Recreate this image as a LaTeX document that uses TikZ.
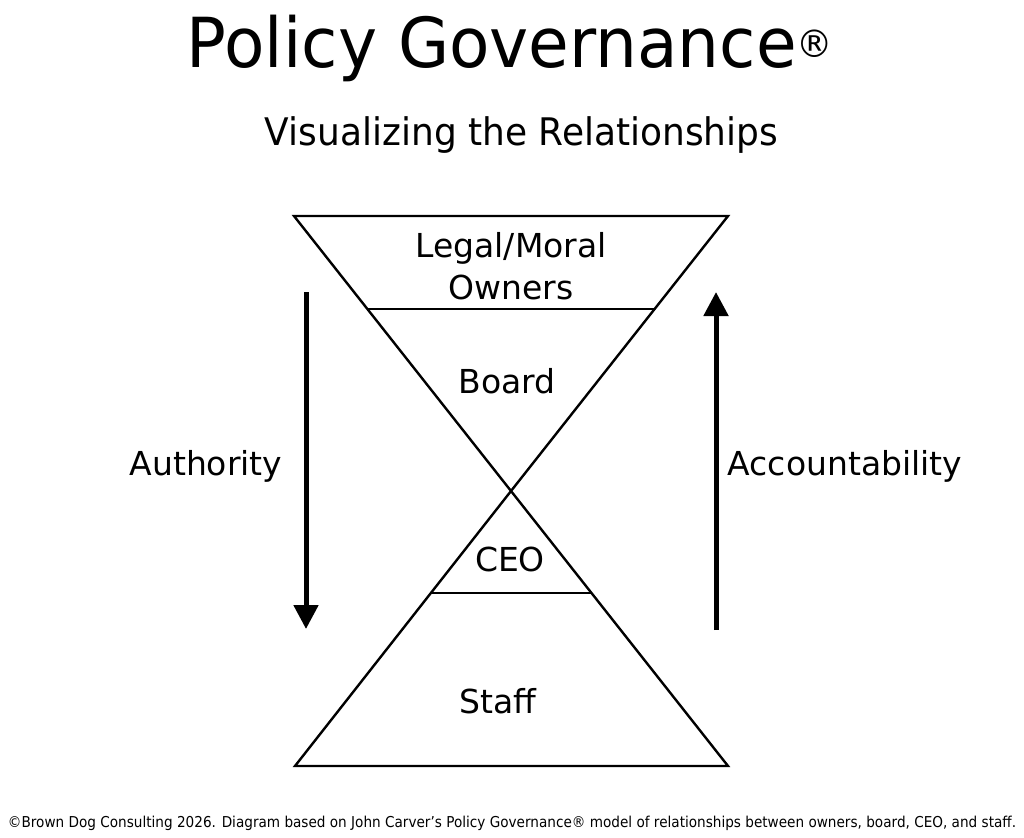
\documentclass[tikz,border=0pt]{standalone}
\usepackage{fontspec}
\setmainfont{DejaVu Sans}
\usetikzlibrary{arrows.meta,calc}
\begin{document}
\begin{tikzpicture}[x=1pt,y=-1pt,
  edge/.style={line width=2.4pt,line join=miter},
  divider/.style={line width=2pt},
  flow/.style={line width=5pt,-{Triangle[width=24pt,length=24pt]}},
  lbl/.style={font=\fontsize{33}{40}\selectfont,inner sep=0pt,anchor=base,align=center}]
\useasboundingbox[fill=white] (0,0) rectangle (1024,837);
% geometry
\coordinate (TL) at (294,216);
\coordinate (TR) at (728,216);
\coordinate (apex) at (511,491);
\coordinate (BL) at (295,766);
\coordinate (BR) at (728,766);
\coordinate (oL) at ($(TL)!0.338!(apex)$);
\coordinate (oR) at ($(TR)!0.338!(apex)$);
\coordinate (cL) at ($(apex)!0.371!(BL)$);
\coordinate (cR) at ($(apex)!0.371!(BR)$);
\draw[edge] (TL) -- (TR) -- (apex) -- cycle;
\draw[edge] (apex) -- (BL) -- (BR) -- cycle;
\draw[divider] (oL) -- (oR);
\draw[divider] (cL) -- (cR);
% titles
\node (title) at (510,68) [inner sep=0pt,anchor=base] {\resizebox{646pt}{\height}{\fontsize{69}{80}\selectfont Policy Governance\raisebox{10pt}{\fontsize{38}{38}\selectfont ®}}};
\node (sub) at (521.5,146) [inner sep=0pt,anchor=base] {\resizebox{513pt}{\height}{\fontsize{38}{46}\selectfont Visualizing the Relationships}};
% labels
\node[lbl] (owners1) at (511,257) {Legal/Moral};
\node[lbl] (owners2) at (511,299) {Owners};
\node[lbl] (board) at (507,393) {Board};
\node[lbl] (ceo) at (510,571) {CEO};
\node[lbl] (staff) at (498,713) {Staff};
\node[lbl] (auth) at (206,475) {Authority};
\node[lbl] (acc) at (845,475) {Accountability};
% arrows
\coordinate (aTop) at (306,292);
\coordinate (aBot) at (306,629);
\coordinate (bBot) at (716,630);
\coordinate (bTop) at (716,292);
\draw[flow] (aTop) -- (aBot);
\draw[flow] (bBot) -- (bTop);
% footer
\node (foot) at (512,827) [inner sep=0pt,anchor=base] {\resizebox{1008pt}{\height}{\fontsize{15}{17}\selectfont ©Brown Dog Consulting 2026. Diagram based on John Carver’s Policy Governance® model of relationships between owners, board, CEO, and staff.}};
\end{tikzpicture}
\end{document}
